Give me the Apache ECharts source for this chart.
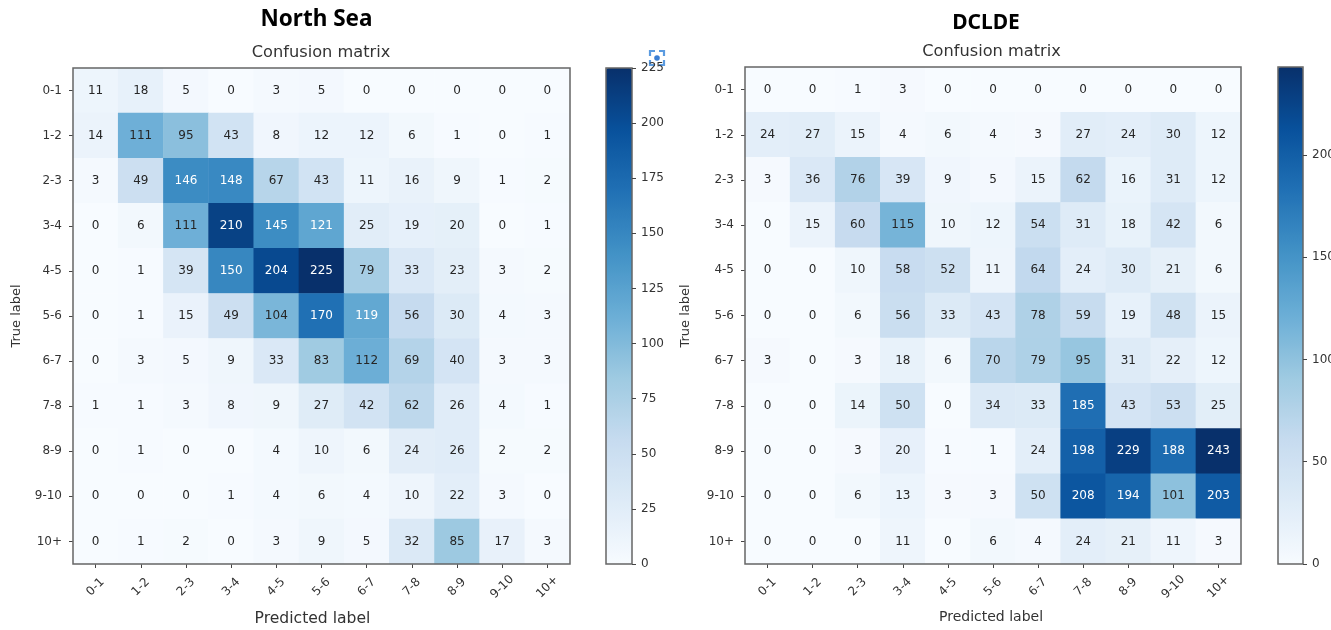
<!DOCTYPE html>
<html><head><meta charset="utf-8">
<style>html,body{margin:0;padding:0;background:#fff}#c{width:1331px;height:630px;filter:blur(0.5px)}</style>
<script src="https://cdn.jsdelivr.net/npm/echarts@6/dist/echarts.min.js"></script>
</head><body><div id="c"></div>
<script>
const labels = ['0-1','1-2','2-3','3-4','4-5','5-6','6-7','7-8','8-9','9-10','10+'];
const northSea = [
 [11,18,5,0,3,5,0,0,0,0,0],
 [14,111,95,43,8,12,12,6,1,0,1],
 [3,49,146,148,67,43,11,16,9,1,2],
 [0,6,111,210,145,121,25,19,20,0,1],
 [0,1,39,150,204,225,79,33,23,3,2],
 [0,1,15,49,104,170,119,56,30,4,3],
 [0,3,5,9,33,83,112,69,40,3,3],
 [1,1,3,8,9,27,42,62,26,4,1],
 [0,1,0,0,4,10,6,24,26,2,2],
 [0,0,0,1,4,6,4,10,22,3,0],
 [0,1,2,0,3,9,5,32,85,17,3]
];
const dclde = [
 [0,0,1,3,0,0,0,0,0,0,0],
 [24,27,15,4,6,4,3,27,24,30,12],
 [3,36,76,39,9,5,15,62,16,31,12],
 [0,15,60,115,10,12,54,31,18,42,6],
 [0,0,10,58,52,11,64,24,30,21,6],
 [0,0,6,56,33,43,78,59,19,48,15],
 [3,0,3,18,6,70,79,95,31,22,12],
 [0,0,14,50,0,34,33,185,43,53,25],
 [0,0,3,20,1,1,24,198,229,188,243],
 [0,0,6,13,3,3,50,208,194,101,203],
 [0,0,0,11,0,6,4,24,21,11,3]
];
const northSeaMax = 225, dcldeMax = 243;
const northSeaTickStep = 25, dcldeTickStep = 50;
const blues = ['#f7fbff','#deebf7','#c6dbef','#9ecae1','#6baed6','#4292c6','#2171b5','#08519c','#08306b'];

const font = '"DejaVu Sans"';
const ink = '#333';
const panels = [
 {name:'North Sea', m:northSea, max:northSeaMax, step:northSeaTickStep,
  left:73, right:570, top:68, bottom:564, barLeft:606, barW:26, tx:316.5, ty:20, tf:22.5, sx:321, sy:53, sf:16.2, px:312.5, py:619, pf:15.6, ly:17},
 {name:'DCLDE', m:dclde, max:dcldeMax, step:dcldeTickStep,
  left:745, right:1241, top:67, bottom:564, barLeft:1278, barW:25, tx:986, ty:23, tf:21, sx:991.5, sy:52, sf:16.2, px:991, py:617, pf:14, ly:686}
];
const opt = {animation:false, backgroundColor:'#fff', grid:[], xAxis:[], yAxis:[], series:[], visualMap:[], graphic:[]};
const txt = (text,x,y,size,extra)=>Object.assign({type:'text',x,y,style:{text,fontFamily:font,fontSize:size,fill:ink,align:'center',verticalAlign:'middle'},silent:true},extra||{});

panels.forEach((p,i)=>{
  const g = i*2, g2 = g+1, h = p.bottom-p.top;
  opt.grid.push({left:p.left, top:p.top, width:p.right-p.left, height:h, show:true, outerBoundsMode:'none', backgroundColor:'transparent', borderColor:'#666', borderWidth:1.5, z:3});
  opt.xAxis.push({type:'category', gridIndex:g, data:labels, boundaryGap:true, position:'bottom',
    axisLine:{show:false}, axisTick:{show:true, alignWithLabel:true, length:4, lineStyle:{color:'#444'}},
    splitLine:{show:false},
    axisLabel:{interval:0, rotate:45, align:'center', verticalAlign:'middle', margin:23, fontFamily:font, fontSize:12, color:ink, hideOverlap:false}});
  opt.yAxis.push({type:'category', gridIndex:g, data:labels, inverse:true, boundaryGap:true,
    axisLine:{show:false}, axisTick:{show:true, alignWithLabel:true, length:4, lineStyle:{color:'#444'}},
    splitLine:{show:false},
    axisLabel:{interval:0, margin:11, fontFamily:font, fontSize:12, color:ink, hideOverlap:false}});
  const data = [];
  p.m.forEach((row,r)=>row.forEach((v,c)=>{
    data.push({value:[c,r,v], label:{color: v>p.max/2 ? '#fff' : '#262626'}});
  }));
  opt.series.push({type:'heatmap', xAxisIndex:g, yAxisIndex:g, data, z:2, progressive:0,
    label:{show:true, fontFamily:font, fontSize:12, formatter:o=>String(o.value[2])},
    itemStyle:{borderWidth:0}, emphasis:{disabled:true}});
  opt.visualMap.push({type:'continuous', min:0, max:p.max, seriesIndex:i*2, dimension:2, calculable:false, realtime:false,
    orient:'vertical', left:p.barLeft, top:p.top, itemWidth:p.barW, itemHeight:h, text:null, showLabel:false, padding:0,
    inRange:{color:blues}, hoverLink:false});
  // colour-bar axis: an empty value axis drawn over the visualMap strip
  opt.grid.push({left:p.barLeft, top:p.top, width:p.barW, height:h, show:true, outerBoundsMode:'none', backgroundColor:'transparent', borderColor:'#666', borderWidth:1.5, z:6});
  opt.xAxis.push({type:'value', gridIndex:g2, show:false, min:0, max:1});
  opt.yAxis.push({type:'value', gridIndex:g2, min:0, max:p.max, interval:p.step, position:'right', z:6,
    axisLine:{show:false, onZero:false}, splitLine:{show:false},
    axisTick:{show:true, length:4, lineStyle:{color:'#444'}},
    axisLabel:{margin:9, fontFamily:font, fontSize:12, color:ink, showMinLabel:true, showMaxLabel:p.max%p.step===0, hideOverlap:false}});
  opt.series.push({type:'scatter', xAxisIndex:g2, yAxisIndex:g2, data:[], silent:true});
  opt.graphic.push(txt(p.name,p.tx,p.ty,p.tf,{style:{text:p.name,fontFamily:'"Noto Sans"',fontWeight:'bold',fontSize:p.tf,fill:'#000',align:'center',verticalAlign:'middle'}}));
  opt.graphic.push(txt('Confusion matrix',p.sx,p.sy,p.sf));
  opt.graphic.push(txt('Predicted label',p.px,p.py,p.pf));
  opt.graphic.push(txt('True label',p.ly,316,13,{rotation:Math.PI/2}));
});
// small blue focus icon that overlaps the top of the first colour bar's label
opt.graphic.push({type:'group', x:657, y:58, z:100, silent:true, children:[
  {type:'circle', shape:{cx:0,cy:0,r:11}, style:{fill:'#fff', opacity:0.85}},
  {type:'polyline', shape:{points:[[-7,-2],[-7,-7],[-2,-7]]}, style:{stroke:'#5b9be0',fill:null,lineWidth:2.2}},
  {type:'polyline', shape:{points:[[2,-7],[7,-7],[7,-2]]}, style:{stroke:'#5b9be0',fill:null,lineWidth:2.2}},
  {type:'polyline', shape:{points:[[-7,2],[-7,7],[-2,7]]}, style:{stroke:'#5b9be0',fill:null,lineWidth:2.2}},
  {type:'polyline', shape:{points:[[2,7],[7,7],[7,2]]}, style:{stroke:'#5b9be0',fill:null,lineWidth:2.2}},
  {type:'circle', shape:{cx:0,cy:0,r:2.8}, style:{fill:'#3b7fd4'}}
]});
const chart = echarts.init(document.getElementById('c'),null,{renderer:'canvas'});
chart.setOption(opt);
</script></body></html>
